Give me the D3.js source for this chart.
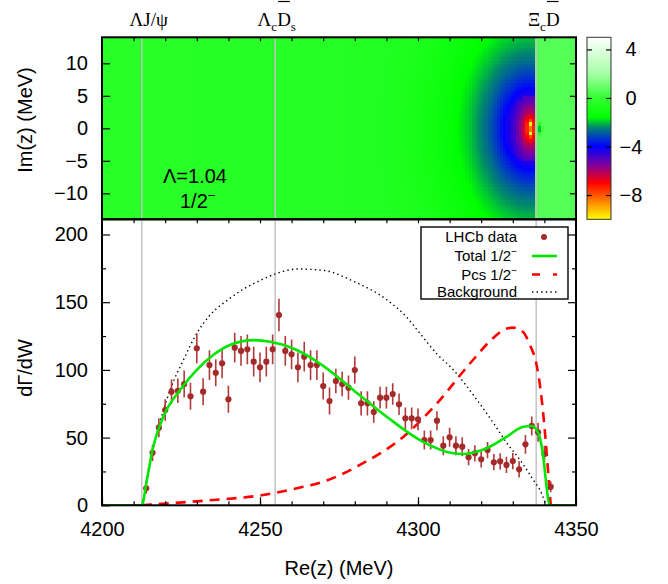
<!DOCTYPE html>
<html>
<head>
<meta charset="utf-8">
<script src="https://cdn.jsdelivr.net/npm/d3@7"></script>
<style>
  body { margin: 0; background: #fff; }
  svg { display: block; }
  text { font-family: "Liberation Sans", Arial, sans-serif; fill: #000; }
  .serif { font-family: "Liberation Serif", "Times New Roman", serif; }
</style>
</head>
<body>
<svg id="chart" width="668" height="584"></svg>
<script>
// axis limits
const reLim = [4200, 4350];
const imLim = [-14, 14];
const rateLim = [0, 211];
const cbLim = [-10, 5];

// thresholds (vertical lines) and their labels
const thrRe = [4212.6, 4254.8, 4337.4];
const thrLabelRe = [4214.8, 4255.3, 4339.8];
const thrLabels = [
    [{ t: "ΛJ/ψ" }],
    [{ t: "Λ" }, { t: "c", sub: true }, { t: "D", bar: true }, { t: "s", sub: true }],
    [{ t: "Ξ" }, { t: "c", sub: true }, { t: "D", bar: true }]
];

// LHCb data
const dataRe = d3.range(4214, 4343, 2);
const dataVal = [12.6, 38.8, 57.3, 70.4, 83.9, 84.6, 89.6, 80.5, 116, 83.9,
    103.6, 97.9, 104.9, 78.3, 116.4, 114, 115.2, 106.1, 101.9, 106.1,
    115.2, 140.5, 114, 111.5, 101.9, 109.8, 103.6, 103.6, 88.1, 77,
    91.8, 89.6, 86.9, 99.9, 75.3, 75.3, 68.9, 79.5, 79.5, 82.2,
    74.6, 64.2, 64.2, 63.5, 48.2, 48.2, 62.5, 44, 50.2, 44,
    43.3, 35.5, 38.4, 34, 40.8, 31.8, 32.5, 29.8, 32.7, 26.6,
    45, 58.6, 53.9, 37.9, 13.7];
const dataErr = [4, 6, 7, 8, 9, 9, 10, 10, 11, 10,
    11, 10, 11, 10, 11, 11, 11, 11, 11, 11,
    11, 12, 11, 11, 11, 11, 11, 11, 10, 10,
    9, 9, 9, 10, 9, 9, 8, 8, 8, 8,
    8, 8, 8, 8, 7, 7, 7, 7, 7, 7,
    7, 6, 6, 6, 6, 6, 6, 6, 6, 6,
    7, 7, 7, 6, 4];

// Total 1/2-
const totalRe = [4200, 4212.6, 4214.1, 4216.2, 4219.4, 4224.7, 4230, 4235.2, 4240.5, 4247.9,
    4253.2, 4261.6, 4270, 4279.5, 4290.1, 4300.6, 4311.2, 4314.4, 4321.7, 4328.1,
    4333.3, 4336, 4338.1, 4339.5, 4340.7, 4341.6, 4350];
const totalVal = [0, 0, 17.4, 43.3, 65.4, 85.2, 100, 111, 118.4, 122,
    120.8, 114.7, 103, 85.2, 65.4, 48.2, 38.4, 37.9, 42.1, 50.7,
    58, 58.6, 53.2, 38.4, 13.7, 0, 0];

// Pcs 1/2-
const pcsRe = [4212.6, 4221.5, 4235.2, 4251, 4263.7, 4270, 4281.6, 4295.4, 4306, 4316.5,
    4324, 4327, 4330, 4333, 4335.5, 4337.5, 4338.8, 4340.2, 4341.3, 4342];
const pcsVal = [0, 1.5, 3.9, 7.6, 13.7, 17.4, 29.8, 50.7, 75.3, 104.9,
    124, 129.5, 131.2, 128.5, 118, 104, 85, 53.2, 21.1, 0];

// Background
const bgRe = [4212.6, 4213.5, 4214.1, 4215, 4216.8, 4219.4, 4222, 4225.7, 4230, 4234,
    4240, 4245, 4250, 4255, 4262, 4270, 4280, 4290, 4296.4, 4300.6,
    4305.9, 4311.2, 4318.6, 4323.8, 4328.1, 4332.3, 4336.5, 4339.1, 4340.5];
const bgVal = [0, 10, 19, 30, 48, 70, 88, 107, 127, 140,
    152, 160, 166, 171, 174.5, 173.5, 165, 152, 139, 127,
    112, 100, 78, 61, 46, 33.5, 18.7, 8.9, 0];

// complex plane: two poles below the Xi_c D cut, a small dip above it
const poleRe = [4335.5, 4335.5];
const poleIm = [0.75, -0.75];
const nearC = -7.84, nearA = 0.91, nearR = 7;     // log|...| close to the poles
const farLevel = -0.3, farB = 0.85, farR = 35.5, farP = 3, farFloor = -4.3, imStretch = 1.35;
const cutRe = 4337.4;
const dipRe = [4338.5];
const dipIm = [0];
const dipC = 0.19, dipA = 1.58, rightLevel = 0.6;

// palette
const cbStops = [-10, -8.5, -7, -5.5, -4, -3.2, -2.4, -1.6, 0, 2, 5];
const cbColors = ["#ffff00", "#ff8000", "#ff0000", "#7f00a0", "#0000ff", "#0040c0",
    "#008a6a", "#00ff00", "#33ff33", "#a6ffa6", "#ffffff"];
const cbTicks = [4, 0, -4, -8];

const left = 102, right = 576;
const top1 = 37.3, bot1 = 219.3, bot2 = 505.3;

const svg = d3.select("#chart");
const x = d3.scaleLinear().domain(reLim).range([left, right]);
const yIm = d3.scaleLinear().domain(imLim).range([bot1, top1]);
const yRate = d3.scaleLinear().domain(rateLim).range([bot2, bot1 + 0.3]);
const cbY = d3.scaleLinear().domain(cbLim).range([bot1, top1]);
const color = d3.scaleLinear().domain(cbStops).range(cbColors).clamp(true);

function fieldValue(re, im) {
    if (re < cutRe) {
        const D = Math.hypot(re - poleRe[0], imStretch * im);
        if (D < nearR) {
            let s = 0;
            poleRe.forEach((pr, i) => { s += Math.log(Math.hypot(re - pr, im - poleIm[i])); });
            return Math.min(farFloor, nearC + nearA * s);
        }
        return Math.max(farFloor, farLevel - farB * Math.log(1 + Math.pow(farR / D, farP)));
    }
    const d = Math.hypot(re - dipRe[0], im - dipIm[0]);
    return Math.min(rightLevel, dipC + dipA * Math.log(d));
}

// ---------- top panel: heat map ----------
const cells = [];
d3.range(reLim[0], reLim[1], 1).forEach(r0 => {
    d3.range(imLim[0], imLim[1], 0.5).forEach(i0 => {
        cells.push({ r0: r0, i0: i0, v: fieldValue(r0 + 0.5, i0 + 0.25) });
    });
});
svg.append("g").attr("shape-rendering", "crispEdges")
    .selectAll("rect").data(cells).enter().append("rect")
    .attr("x", d => x(d.r0))
    .attr("y", d => yIm(d.i0 + 0.5))
    .attr("width", d => x(d.r0 + 1) - x(d.r0) + 0.6)
    .attr("height", d => yIm(d.i0) - yIm(d.i0 + 0.5) + 0.6)
    .attr("fill", d => color(d.v));

// ---------- threshold lines ----------
svg.append("g").selectAll("line").data(thrRe).enter().append("line")
    .attr("x1", d => x(d)).attr("x2", d => x(d))
    .attr("y1", top1).attr("y2", bot2)
    .attr("stroke", "#c4c4c4").attr("stroke-width", 1.5);

// ---------- bottom panel curves ----------
svg.append("clipPath").attr("id", "clipB").append("rect")
    .attr("x", left).attr("y", bot1).attr("width", right - left).attr("height", bot2 - bot1);
const plot = svg.append("g").attr("clip-path", "url(#clipB)");

const line = d3.line().x(d => x(d[0])).y(d => yRate(d[1])).curve(d3.curveMonotoneX);

plot.append("path").datum(d3.zip(bgRe, bgVal)).attr("d", line)
    .attr("fill", "none").attr("stroke", "#000").attr("stroke-width", 1.4)
    .attr("stroke-dasharray", "1.4,3.2");
plot.append("path").datum(d3.zip(pcsRe, pcsVal)).attr("d", line)
    .attr("fill", "none").attr("stroke", "#ff0000").attr("stroke-width", 2.6)
    .attr("stroke-dasharray", "10,7");

// data with error bars
const pts = plot.append("g");
pts.selectAll("line").data(dataRe).enter().append("line")
    .attr("x1", d => x(d)).attr("x2", d => x(d))
    .attr("y1", (d, i) => yRate(dataVal[i] - dataErr[i]))
    .attr("y2", (d, i) => yRate(dataVal[i] + dataErr[i]))
    .attr("stroke", "#b03a3a").attr("stroke-width", 1.6);
pts.selectAll("circle").data(dataRe).enter().append("circle")
    .attr("cx", d => x(d)).attr("cy", (d, i) => yRate(dataVal[i]))
    .attr("r", 3.1).attr("fill", "#a52a2a");

plot.append("path").datum(d3.zip(totalRe, totalVal)).attr("d", line)
    .attr("fill", "none").attr("stroke", "#00e600").attr("stroke-width", 2.6);

// ---------- axes ----------
const fs = "20px";
function styleAxis(g) {
    g.select(".domain").remove();
    g.selectAll("line").attr("stroke", "#000").attr("stroke-width", 1.2);
    g.selectAll("text").style("font-size", fs).attr("fill", "#000")
        .style("font-family", '"Liberation Sans", Arial, sans-serif');
}
const minus = d => d3.format("d")(d).replace("-", "\u2212");

// top panel ticks
svg.append("g").attr("transform", `translate(${left},0)`)
    .call(d3.axisLeft(yIm).tickValues([10, 5, 0, -5, -10]).tickSize(-8).tickPadding(14).tickFormat(minus))
    .call(styleAxis);
svg.append("g").attr("transform", `translate(${right},0)`)
    .call(d3.axisRight(yIm).tickValues([10, 5, 0, -5, -10]).tickSize(-6).tickFormat(""))
    .call(styleAxis);
svg.append("g").attr("transform", `translate(0,${top1})`)
    .call(d3.axisTop(x).tickValues(d3.range(4210, 4350, 10)).tickSize(-4).tickFormat(""))
    .call(styleAxis);

// bottom panel ticks
svg.append("g").attr("transform", `translate(0,${bot2})`)
    .call(d3.axisBottom(x).tickValues([4200, 4250, 4300, 4350]).tickSize(-8).tickPadding(17).tickFormat(d3.format("d")))
    .call(styleAxis);
svg.append("g").attr("transform", `translate(0,${bot2})`)
    .call(d3.axisBottom(x).tickValues(d3.range(4210, 4350, 10)).tickSize(-4).tickFormat(""))
    .call(styleAxis);
svg.append("g").attr("transform", `translate(0,${bot1})`)
    .call(d3.axisTop(x).tickValues(d3.range(4210, 4350, 10)).tickSize(-4).tickFormat(""))
    .call(styleAxis);
svg.append("g").attr("transform", `translate(${left},0)`)
    .call(d3.axisLeft(yRate).tickValues([0, 50, 100, 150, 200]).tickSize(-8).tickPadding(14).tickFormat(d3.format("d")))
    .call(styleAxis);
svg.append("g").attr("transform", `translate(${left},0)`)
    .call(d3.axisLeft(yRate).tickValues([25, 75, 125, 175]).tickSize(-4).tickFormat(""))
    .call(styleAxis);
svg.append("g").attr("transform", `translate(${right},0)`)
    .call(d3.axisRight(yRate).tickValues([50, 100, 150, 200]).tickSize(-8).tickFormat(""))
    .call(styleAxis);
svg.append("g").attr("transform", `translate(${right},0)`)
    .call(d3.axisRight(yRate).tickValues([25, 75, 125, 175]).tickSize(-4).tickFormat(""))
    .call(styleAxis);

// panel borders
svg.append("rect").attr("x", left).attr("y", top1).attr("width", right - left).attr("height", bot1 - top1)
    .attr("fill", "none").attr("stroke", "#000").attr("stroke-width", 2);
svg.append("rect").attr("x", left).attr("y", bot1).attr("width", right - left).attr("height", bot2 - bot1)
    .attr("fill", "none").attr("stroke", "#000").attr("stroke-width", 2);

// axis titles
svg.append("text").attr("transform", "translate(32,120) rotate(-90)")
    .attr("text-anchor", "middle").style("font-size", fs).text("Im(z) (MeV)");
svg.append("text").attr("transform", "translate(32,368) rotate(-90)")
    .attr("text-anchor", "middle").style("font-size", fs).text("dΓ/dW");
svg.append("text").attr("x", (left + right) / 2).attr("y", 575)
    .attr("text-anchor", "middle").style("font-size", fs).text("Re(z) (MeV)");

// panel annotation
svg.append("text").attr("x", 163).attr("y", 183).style("font-size", fs).text("Λ=1.04");
const half = svg.append("text").attr("x", 180).attr("y", 208).style("font-size", fs);
half.append("tspan").text("1/2");
half.append("tspan").attr("dy", -8).style("font-size", "13px").text("\u2212");

// threshold labels
thrLabels.forEach((parts, k) => {
    const t = svg.append("text").attr("class", "serif")
        .attr("x", x(thrLabelRe[k])).attr("y", 26)
        .attr("text-anchor", "middle").style("font-size", "19px");
    let shift = 0, idx = 0;
    const bars = [];
    parts.forEach(p => {
        const want = p.sub ? 5 : 0;
        t.append("tspan").attr("dy", want - shift)
            .style("font-size", p.sub ? "13px" : "19px").text(p.t);
        shift = want;
        if (p.bar) bars.push(idx);
        idx += p.t.length;
    });
    const node = t.node();
    bars.forEach(ci => {
        const a = node.getStartPositionOfChar(ci).x;
        const b = node.getEndPositionOfChar(ci).x;
        svg.append("line").attr("x1", a + 1).attr("x2", b - 1).attr("y1", 1.5).attr("y2", 1.5)
            .attr("stroke", "#000").attr("stroke-width", 1.2);
    });
});

// ---------- colour box ----------
const cbX0 = 587, cbX1 = 611;
const grad = svg.append("defs").append("linearGradient").attr("id", "cbGrad")
    .attr("x1", 0).attr("y1", 1).attr("x2", 0).attr("y2", 0);
cbStops.forEach((s, i) => {
    grad.append("stop").attr("offset", (s - cbLim[0]) / (cbLim[1] - cbLim[0]))
        .attr("stop-color", cbColors[i]);
});
svg.append("rect").attr("x", cbX0).attr("y", top1).attr("width", cbX1 - cbX0).attr("height", bot1 - top1)
    .attr("fill", "url(#cbGrad)").attr("stroke", "#333").attr("stroke-width", 1);
svg.append("g").attr("transform", `translate(${cbX0},0)`)
    .call(d3.axisLeft(cbY).tickValues(cbTicks).tickSize(-5).tickFormat(""))
    .call(styleAxis);
svg.append("g").attr("transform", `translate(${cbX1},0)`)
    .call(d3.axisRight(cbY).tickValues(cbTicks).tickSize(-5).tickFormat(""))
    .call(styleAxis);
svg.append("g").selectAll("text").data(cbTicks).enter().append("text")
    .attr("x", 631).attr("y", d => cbY(d)).attr("dy", "0.35em")
    .attr("text-anchor", "middle").style("font-size", fs).text(minus);

// ---------- legend ----------
const legBox = { x0: 421, y0: 227, x1: 568, y1: 299 };
svg.append("rect").attr("x", legBox.x0).attr("y", legBox.y0)
    .attr("width", legBox.x1 - legBox.x0).attr("height", legBox.y1 - legBox.y0)
    .attr("fill", "#fff").attr("stroke", "#000").attr("stroke-width", 1.4);
const legRows = [237, 256, 274.5, 292];
const legNames = ["LHCb data", "Total 1/2", "Pcs 1/2", "Background"];
legNames.forEach((n, i) => {
    const t = svg.append("text").attr("x", 517).attr("y", legRows[i]).attr("dy", "0.35em")
        .attr("text-anchor", "end").style("font-size", "15px");
    t.append("tspan").text(n);
    if (i === 1 || i === 2) t.append("tspan").attr("dy", -6).style("font-size", "10px").text("\u2212");
});
svg.append("circle").attr("cx", 544).attr("cy", legRows[0]).attr("r", 3).attr("fill", "#a52a2a");
svg.append("line").attr("x1", 532).attr("x2", 557).attr("y1", legRows[1]).attr("y2", legRows[1])
    .attr("stroke", "#00e600").attr("stroke-width", 2.6);
svg.append("line").attr("x1", 532).attr("x2", 557).attr("y1", legRows[2]).attr("y2", legRows[2])
    .attr("stroke", "#ff0000").attr("stroke-width", 2.6).attr("stroke-dasharray", "8,13");
svg.append("line").attr("x1", 532).attr("x2", 557).attr("y1", legRows[3]).attr("y2", legRows[3])
    .attr("stroke", "#000").attr("stroke-width", 1.4).attr("stroke-dasharray", "1.4,3.2");
</script>
</body>
</html>
